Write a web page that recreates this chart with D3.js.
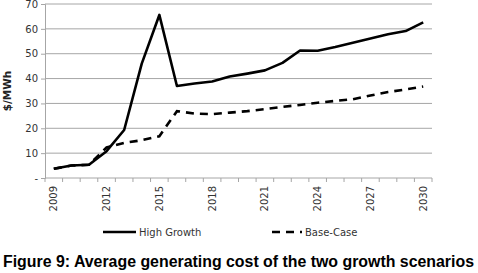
<!DOCTYPE html>
<html>
<head>
<meta charset="utf-8">
<script src="https://cdn.jsdelivr.net/npm/d3@7"></script>
<style>
  body { margin: 0; background: #fff; }
  svg { display: block; }
</style>
</head>
<body>
<div id="chart"></div>
<script>
// 数据
const years = d3.range(2009, 2031).map(String);
const highGrowth = [3.7, 5, 5.3, 10.8, 19.3, 46, 65.6, 37, 38, 38.8, 40.8, 42, 43.3, 46.3, 51.3, 51.2, 52.7, 54.4, 56.1, 57.8, 59.1, 62.6];
const baseCase   = [3.7, 5, 5.3, 12.3, 14.1, 15.2, 16.8, 26.9, 25.9, 25.7, 26.3, 26.9, 27.7, 28.6, 29.4, 30.3, 31, 31.7, 33.2, 34.6, 35.6, 36.8];
const yTicks = [0, 10, 20, 30, 40, 50, 60, 70];
const labelYears = ['2009', '2012', '2015', '2018', '2021', '2024', '2027', '2030'];

const width = 478, height = 273;
const margin = { left: 45, right: 46, top: 4, bottom: 95 };

const svg = d3.select('#chart').append('svg')
    .attr('width', width)
    .attr('height', height);

const x = d3.scaleBand()
    .domain(years)
    .range([margin.left, width - margin.right]);

const y = d3.scaleLinear()
    .domain([0, 70])
    .range([height - margin.bottom, margin.top]);

// 网格线
svg.append('g')
    .selectAll('line')
    .data(yTicks.slice(1))
    .enter()
    .append('line')
    .attr('x1', margin.left)
    .attr('x2', width - margin.right)
    .attr('y1', d => y(d))
    .attr('y2', d => y(d))
    .attr('stroke', '#a6a6a6')
    .attr('stroke-width', 1);

// y 轴
const yAxis = svg.append('g')
    .attr('transform', `translate(${margin.left},0)`)
    .call(d3.axisLeft(y).tickValues(yTicks).tickSize(4).tickFormat(d => d === 0 ? '-' : d));
yAxis.select('.domain').attr('stroke', '#a6a6a6');
yAxis.selectAll('.tick line').attr('stroke', '#a6a6a6');
yAxis.selectAll('.tick text')
    .attr('font-family', 'Verdana, DejaVu Sans, sans-serif')
    .attr('font-size', 10)
    .attr('fill', '#333')
    .attr('x', -7);

// x 轴
const xAxisG = svg.append('g')
    .attr('transform', `translate(0,${y(0)})`);
xAxisG.append('line')
    .attr('x1', margin.left)
    .attr('x2', width - margin.right)
    .attr('stroke', '#a6a6a6');
xAxisG.selectAll('line.tick')
    .data(years.concat(['end']))
    .enter()
    .append('line')
    .attr('class', 'tick')
    .attr('x1', (d, i) => margin.left + i * x.step())
    .attr('x2', (d, i) => margin.left + i * x.step())
    .attr('y1', 0)
    .attr('y2', 4)
    .attr('stroke', '#a6a6a6');
xAxisG.selectAll('text')
    .data(labelYears)
    .enter()
    .append('text')
    .attr('transform', d => `translate(${x(d) + x.bandwidth() / 2 + 3.5},8) rotate(-90)`)
    .attr('text-anchor', 'end')
    .attr('font-family', 'Verdana, DejaVu Sans, sans-serif')
    .attr('font-size', 10)
    .attr('fill', '#333')
    .text(d => d);

// y 轴标题
svg.append('text')
    .attr('transform', `translate(11,${y(35)}) rotate(-90)`)
    .attr('text-anchor', 'middle')
    .attr('font-family', 'Verdana, DejaVu Sans, sans-serif')
    .attr('font-size', 10.5)
    .attr('font-weight', 'bold')
    .attr('fill', '#222')
    .text('$/MWh');

// 折线
const line = d3.line()
    .x((d, i) => x(years[i]) + x.bandwidth() / 2)
    .y(d => y(d));

svg.append('path')
    .datum(baseCase)
    .attr('d', line)
    .attr('fill', 'none')
    .attr('stroke', '#000')
    .attr('stroke-width', 2.6)
    .attr('stroke-dasharray', '8,6');

svg.append('path')
    .datum(highGrowth)
    .attr('d', line)
    .attr('fill', 'none')
    .attr('stroke', '#000')
    .attr('stroke-width', 2.6)
    .attr('stroke-linejoin', 'round');

// 图例
const legendY = 232;
const legend = svg.append('g');
legend.append('line')
    .attr('x1', 103).attr('x2', 136)
    .attr('y1', legendY).attr('y2', legendY)
    .attr('stroke', '#000').attr('stroke-width', 2.6);
legend.append('text')
    .attr('x', 139).attr('y', legendY + 3.5)
    .attr('font-family', 'Verdana, DejaVu Sans, sans-serif')
    .attr('font-size', 10)
    .attr('fill', '#333')
    .text('High Growth');
legend.append('line')
    .attr('x1', 272).attr('x2', 302)
    .attr('y1', legendY).attr('y2', legendY)
    .attr('stroke', '#000').attr('stroke-width', 2.6)
    .attr('stroke-dasharray', '8,6');
legend.append('text')
    .attr('x', 305).attr('y', legendY + 3.5)
    .attr('font-family', 'Verdana, DejaVu Sans, sans-serif')
    .attr('font-size', 10)
    .attr('fill', '#333')
    .text('Base-Case');

// 图题
svg.append('text')
    .attr('x', 3).attr('y', 267)
    .attr('font-family', 'Liberation Sans, Arial, sans-serif')
    .attr('font-size', 16)
    .attr('font-weight', 'bold')
    .attr('fill', '#000')
    .attr('textLength', 471)
    .attr('lengthAdjust', 'spacingAndGlyphs')
    .text('Figure 9: Average generating cost of the two growth scenarios');
</script>
</body>
</html>
